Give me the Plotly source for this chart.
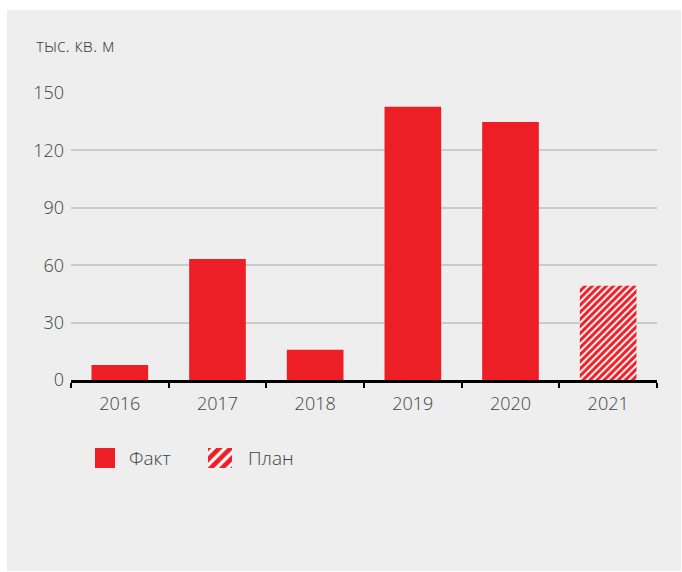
import plotly.graph_objects as go

years = ["2016", "2017", "2018", "2019", "2020", "2021"]
fact_years = ["2016", "2017", "2018", "2019", "2020"]
fact_values = [7.8, 63.2, 15.8, 142.8, 134.8]
plan_years = ["2021"]
plan_values = [49.2]
y_ticks = [0, 30, 60, 90, 120, 150]
unit_label = "тыс. кв. м"
legend_labels = ["Факт", "План"]

RED = "#EE1E26"
TEXT = "#424242"
BG = "#EDEEED"
FONT = "Open Sans"

W, H = 682, 572
# plot area in pixels
PL, PR, PT, PB = 71, 657, 93, 380

fig = go.Figure()

fig.add_trace(go.Bar(
    x=fact_years, y=fact_values, name=legend_labels[0],
    marker=dict(color=RED, line=dict(width=0)),
    showlegend=False, hoverinfo="x+y",
))
fig.add_trace(go.Bar(
    x=plan_years, y=plan_values, name=legend_labels[1],
    marker=dict(color="white", line=dict(width=0),
                pattern=dict(shape="/", fgcolor=RED, bgcolor="white",
                             size=5, solidity=0.6, fillmode="replace")),
    showlegend=False, hoverinfo="x+y",
))

# legend swatches on a pixel-coordinate overlay axis
fig.add_trace(go.Scatter(
    x=[95, 115, 115, 95, 95], y=[448, 448, 468, 468, 448],
    fill="toself", fillcolor=RED, mode="lines", line=dict(width=0, color=RED),
    xaxis="x2", yaxis="y2", showlegend=False, hoverinfo="skip",
))
fig.add_trace(go.Scatter(
    x=[208, 232, 232, 208, 208], y=[448, 448, 468, 468, 448],
    fill="toself", fillcolor="white", mode="lines", line=dict(width=0, color="white"),
    fillpattern=dict(shape="/", fgcolor=RED, bgcolor="white", size=8, solidity=0.6,
                     fillmode="replace"),
    xaxis="x2", yaxis="y2", showlegend=False, hoverinfo="skip",
))

fig.update_layout(
    width=W, height=H,
    autosize=False,
    margin=dict(l=0, r=0, t=0, b=0, pad=0, autoexpand=False),
    paper_bgcolor="white",
    plot_bgcolor="rgba(0,0,0,0)",
    barmode="overlay",
    bargap=0.42,
    font=dict(family=FONT, color=TEXT, size=18, weight=300),
    xaxis=dict(
        domain=[PL / W, PR / W],
        type="category",
        categoryorder="array", categoryarray=years,
        range=[-0.5, 5.5],
        automargin=False,
        showline=True, linecolor="black", linewidth=2.5,
        ticks="outside", tickson="boundaries", ticklen=5, tickwidth=2, tickcolor="black",
        ticklabelstandoff=6,
        showgrid=False, zeroline=False,
        tickfont=dict(family=FONT, size=18, color=TEXT, weight=300),
        fixedrange=True,
    ),
    yaxis=dict(
        domain=[(H - PB) / H, (H - PT) / H],
        range=[0, 150],
        tickvals=y_ticks,
        automargin=False,
        showgrid=True, gridcolor="#C9CAC9", gridwidth=1.5,
        zeroline=False, showline=False, ticks="",
        ticklabelstandoff=6,
        tickfont=dict(family=FONT, size=18, color=TEXT, weight=300),
        fixedrange=True,
    ),
    xaxis2=dict(domain=[0, 1], range=[0, W], anchor="y2", visible=False,
                automargin=False, fixedrange=True),
    yaxis2=dict(domain=[0, 1], range=[H, 0], anchor="x2", visible=False,
                automargin=False, fixedrange=True),
    shapes=[dict(type="rect", xref="paper", yref="paper",
                 x0=7 / W, x1=681 / W, y0=1 - 571 / H, y1=1 - 10 / H,
                 fillcolor=BG, line=dict(width=0), layer="below")],
    annotations=[
        dict(text=unit_label, xref="paper", yref="paper", x=34 / W, y=1 - 45 / H,
             xanchor="left", yanchor="middle", showarrow=False,
             font=dict(family=FONT, size=18, color=TEXT, weight=300)),
        dict(text=legend_labels[0], xref="paper", yref="paper", x=127 / W, y=1 - 458 / H,
             xanchor="left", yanchor="middle", showarrow=False,
             font=dict(family=FONT, size=19, color=TEXT, weight=300)),
        dict(text=legend_labels[1], xref="paper", yref="paper", x=246 / W, y=1 - 458 / H,
             xanchor="left", yanchor="middle", showarrow=False,
             font=dict(family=FONT, size=19, color=TEXT, weight=300)),
    ],
)

fig.write_html("out.html")
